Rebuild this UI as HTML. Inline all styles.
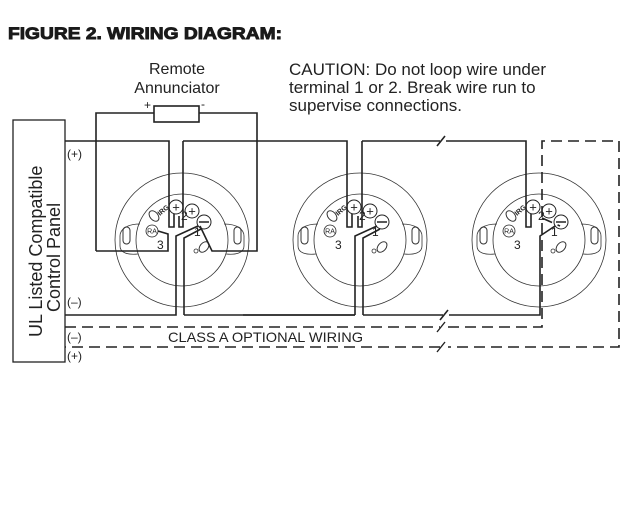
<!DOCTYPE html>
<html><head><meta charset="utf-8"><style>
html,body{margin:0;padding:0;background:#fff}
svg{display:block}
text{font-family:"Liberation Sans",Arial,sans-serif;fill:#222}
</style></head><body>
<svg width="631" height="512" viewBox="0 0 631 512" xmlns="http://www.w3.org/2000/svg">
<defs>
<g id="base">
  <circle cx="0" cy="0" r="67" fill="none" stroke="#333" stroke-width="0.8"/>
  <path d="M-42,-16 C-56,-16 -62,-10 -62,-4 L-62,6 C-62,13 -54,15 -44,14 M42,-16 C56,-16 62,-10 62,-4 L62,6 C62,13 54,15 44,14" fill="none" stroke="#333" stroke-width="0.8"/>
  <circle cx="0" cy="0" r="46" fill="none" stroke="#333" stroke-width="0.8"/>
  <rect x="-59" y="-13" width="7" height="17" rx="3.5" fill="none" stroke="#333" stroke-width="1"/>
  <rect x="52" y="-13" width="7" height="17" rx="3.5" fill="none" stroke="#333" stroke-width="1"/>
  <circle cx="-6" cy="-33" r="7" fill="#fff" stroke="#222" stroke-width="1"/>
  <text x="-6" y="-28.5" font-size="13" text-anchor="middle">+</text>
  <circle cx="10" cy="-29" r="7" fill="#fff" stroke="#222" stroke-width="1"/>
  <text x="10" y="-24.5" font-size="13" text-anchor="middle">+</text>
  <circle cx="22" cy="-18" r="7" fill="#fff" stroke="#222" stroke-width="1"/>
  <line x1="17" y1="-18" x2="27" y2="-18" stroke="#222" stroke-width="1.5"/>
  <circle cx="-30" cy="-9" r="6" fill="#fff" stroke="#222" stroke-width="0.8"/>
  <text x="-30" y="-6.5" font-size="7" text-anchor="middle">RA</text>
  <ellipse cx="-28" cy="-24" rx="4" ry="6" transform="rotate(-40 -28 -24)" fill="none" stroke="#333" stroke-width="1"/>
  <text x="-22" y="-24" font-size="7" font-weight="bold" transform="rotate(-40 -22 -24)">IRG</text>
  <text x="-25" y="9" font-size="12">3</text>
  <text x="-1" y="-20" font-size="12">2</text>
  <text x="12" y="-4" font-size="12">1</text>
  <ellipse cx="22" cy="7" rx="4" ry="6" transform="rotate(40 22 7)" fill="none" stroke="#333" stroke-width="1"/>
  <circle cx="14" cy="11" r="2" fill="none" stroke="#333" stroke-width="0.8"/>
</g>
</defs>

<text x="8" y="39" font-size="17" font-weight="bold" textLength="274" lengthAdjust="spacingAndGlyphs" style="fill:#1a1a1a;stroke:#1a1a1a;stroke-width:0.9">FIGURE 2. WIRING DIAGRAM:</text>
<text x="177" y="74" font-size="16" text-anchor="middle">Remote</text>
<text x="177" y="93" font-size="16" text-anchor="middle">Annunciator</text>
<text x="289" y="75" font-size="17">CAUTION: Do not loop wire under</text>
<text x="289" y="93" font-size="17">terminal 1 or 2.  Break wire run to</text>
<text x="289" y="111" font-size="17">supervise connections.</text>

<rect x="13" y="120" width="52" height="242" fill="#fff" stroke="#222" stroke-width="1.3"/>
<text transform="translate(42,337) rotate(-90)" font-size="18">UL Listed Compatible</text>
<text transform="translate(60,312) rotate(-90)" font-size="18">Control Panel</text>
<text x="67" y="158" font-size="12">(+)</text>
<text x="67" y="306" font-size="12">(–)</text>
<text x="67" y="341" font-size="12">(–)</text>
<text x="67" y="360" font-size="12">(+)</text>

<use href="#base" x="182" y="240"/>
<use href="#base" x="360" y="240"/>
<use href="#base" x="539" y="240"/>

<g fill="none" stroke="#222" stroke-width="1.6">
  <rect x="154" y="106" width="45" height="16" fill="#fff"/>
  <path d="M96,251 V113 H154 M199,113 H257 V251 H212 L200,226"/>
  <path d="M96,251 H168 V234 L158,231"/>
  <path d="M65,141 H169 V227 H174 V214"/>
  <path d="M183,141 H347 V227 H352 V214"/>
  <path d="M183,141 V227 H179 V216"/>
  <path d="M65,315 H176 V236 L198,226"/>
  <path d="M184,315 V238 L201,229"/>
  <path d="M362,141 V227 H358 V216"/>
  <path d="M362,141 H440 M446,141 H526 V227 H531 V214"/>
  <path d="M355,315 H243 M355,315 V236 L377,226"/>
  <path d="M363,315 V238 L380,229"/>
  <path d="M363,315 H443 M449,315 H540 V236 L555,226"/>
  <path d="M437,146 L445,136 M440,320 L448,310"/>
</g>
<line x1="184" y1="315" x2="355" y2="315" stroke="#222" stroke-width="1.6"/>
<g fill="none" stroke="#222" stroke-width="1.6" stroke-dasharray="11,6">
  <path d="M65,327 H440 M448,327 H542 V141 H619 V347 H448 M440,347 H65"/>
  <path d="M542,218 L560,226"/>
</g>
<path d="M437,332 L445,322 M437,352 L445,342" stroke="#222" stroke-width="1.4"/>
<rect x="166" y="330" width="200" height="14" fill="#fff"/>
<text x="168" y="342" font-size="14" textLength="195" lengthAdjust="spacingAndGlyphs">CLASS A OPTIONAL WIRING</text>
<text x="144" y="109" font-size="12">+</text>
<text x="201" y="108" font-size="12">-</text>
</svg>
</body></html>
